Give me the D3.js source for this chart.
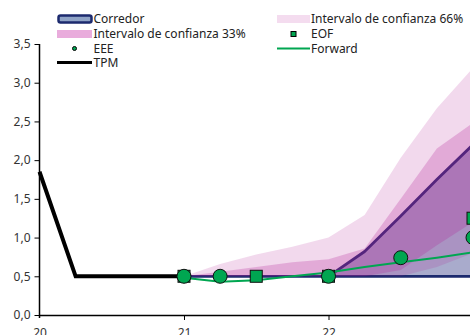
<!DOCTYPE html>
<html><head><meta charset="utf-8">
<script src="https://cdn.jsdelivr.net/npm/d3@7"></script>
<style>body{margin:0;background:#fff}svg{display:block}</style>
</head><body>
<svg id="c" width="470" height="335"></svg>
<script>
// ---- data ----
const tpmX = [20.0, 20.25, 20.5, 20.75, 21.0];
const tpmY = [1.85, 0.5, 0.5, 0.5, 0.5];
const qX = [21.0, 21.25, 21.5, 21.75, 22.0, 22.25, 22.5, 22.75, 23.0];
const corrLow = [0.5, 0.5, 0.5, 0.5, 0.5, 0.5, 0.5, 0.5, 0.5];
const corrHigh = [0.5, 0.5, 0.5, 0.5, 0.5, 0.82, 1.28, 1.75, 2.2];
const ic66Low = [0.5, 0.5, 0.5, 0.5, 0.5, 0.5, 0.5, 0.62, 0.8];
const ic66High = [0.5, 0.66, 0.78, 0.88, 1.0, 1.29, 2.03, 2.67, 3.19];
const ic33Low = [0.5, 0.5, 0.5, 0.5, 0.5, 0.5, 0.58, 0.9, 1.2];
const ic33High = [0.5, 0.56, 0.62, 0.68, 0.72, 0.86, 1.5, 2.15, 2.48];
const fwdY = [0.48, 0.43, 0.45, 0.5, 0.55, 0.62, 0.68, 0.74, 0.81];
const eeeX = [21.0, 21.25, 22.0, 22.5, 23.0];
const eeeY = [0.5, 0.5, 0.5, 0.74, 1.0];
const eofX = [21.0, 21.5, 22.0, 23.0];
const eofY = [0.5, 0.5, 0.5, 1.25];
const yTicks = [0, 0.5, 1.0, 1.5, 2.0, 2.5, 3.0, 3.5];
const xTicks = [20, 21, 22];
const legendLeft = ["Corredor", "Intervalo de confianza 33%", "EEE", "TPM"];
const legendRight = ["Intervalo de confianza 66%", "EOF", "Forward"];

// ---- scales ----
const svg = d3.select("#c");
const x = d3.scaleLinear().domain([20, 23]).range([39.5, 473]);
const y = d3.scaleLinear().domain([0, 3.5]).range([315, 44]);
const FONT = "'Noto Sans', 'Open Sans', sans-serif";
const green = "#00a651";
const navy = "#1c2a6e";
const pinkBase = "rgb(180,30,150)";

const band = (lo, hi) => d3.area().x((d, i) => x(qX[i])).y0((d, i) => y(lo[i])).y1((d, i) => y(hi[i]));
const g = svg.append("g");
// corredor
g.append("path").datum(qX).attr("d", band(corrLow, corrHigh))
  .attr("fill", "#a9abcc").attr("stroke", navy).attr("stroke-width", 2.8).attr("stroke-linejoin", "round");
// confidence bands (translucent over corredor)
g.append("path").datum(qX).attr("d", band(ic66Low, ic66High))
  .attr("fill", pinkBase).attr("fill-opacity", 0.17);
g.append("path").datum(qX).attr("d", band(ic33Low, ic33High))
  .attr("fill", pinkBase).attr("fill-opacity", 0.25);

// TPM
g.append("path").datum(tpmX).attr("d", d3.line().x(d => x(d)).y((d, i) => y(tpmY[i])))
  .attr("fill", "none").attr("stroke", "#000").attr("stroke-width", 4).attr("stroke-linejoin", "miter");
// Forward
g.append("path").datum(qX).attr("d", d3.line().x(d => x(d)).y((d, i) => y(fwdY[i])))
  .attr("fill", "none").attr("stroke", green).attr("stroke-width", 2);
// EOF squares
const sq = 12;
g.selectAll("rect.eof").data(eofX).join("rect").attr("class", "eof")
  .attr("x", d => x(d) - sq / 2).attr("y", (d, i) => y(eofY[i]) - sq / 2)
  .attr("width", sq).attr("height", sq).attr("fill", green).attr("stroke", "#111").attr("stroke-width", 1);
// EEE circles
g.selectAll("circle.eee").data(eeeX).join("circle").attr("class", "eee")
  .attr("cx", d => x(d)).attr("cy", (d, i) => y(eeeY[i])).attr("r", 7)
  .attr("fill", green).attr("stroke", "#111").attr("stroke-width", 1);

// ---- axes ----
const fmt = d => d3.format(".1f")(d).replace(".", ",");
const ya = svg.append("g").attr("transform", "translate(39.5,0)")
  .call(d3.axisLeft(y).tickValues(yTicks).tickFormat(fmt).tickSize(5).tickSizeOuter(0).tickPadding(4));
ya.select(".domain").attr("stroke", "#000").attr("stroke-width", 1.5).attr("d", "M0," + (y(0) + 3) + "V" + y(3.5));
ya.selectAll("text").attr("font-family", FONT).attr("font-size", 12).attr("fill", "#333");
ya.selectAll("line").attr("stroke", "#000");

const xa = svg.append("g").attr("transform", "translate(0,315)")
  .call(d3.axisBottom(x).tickValues(xTicks).tickFormat(d => d).tickSize(5).tickSizeOuter(0).tickPadding(8));
xa.select(".domain").attr("stroke", "#000").attr("stroke-width", 1.5);
xa.selectAll("text").attr("font-family", FONT).attr("font-size", 12).attr("fill", "#333");
xa.selectAll("line").attr("stroke", "#000");
xa.selectAll(".tick").filter(d => d === 20).select("line").remove();

// ---- legend ----
const lg = svg.append("g").attr("font-family", FONT).attr("font-size", 12).attr("fill", "#222");
const rowY = [19, 34, 48.5, 62.5];
legendLeft.forEach((t, i) => lg.append("text").attr("x", 93.5).attr("y", rowY[i]).attr("dy", "0.35em").text(t));
legendRight.forEach((t, i) => lg.append("text").attr("x", 311).attr("y", rowY[i]).attr("dy", "0.35em").text(t));
// swatches
lg.append("rect").attr("x", 58.5).attr("y", 15.5).attr("width", 33).attr("height", 7).attr("rx", 2)
  .attr("fill", "#8fa3c6").attr("stroke", navy).attr("stroke-width", 2.5);
lg.append("rect").attr("x", 57).attr("y", 30).attr("width", 35).attr("height", 8).attr("fill", "#e9acdc");
lg.append("circle").attr("cx", 74.5).attr("cy", rowY[2]).attr("r", 2).attr("fill", green).attr("stroke", "#000").attr("stroke-width", 1);
lg.append("line").attr("x1", 57).attr("x2", 92).attr("y1", rowY[3]).attr("y2", rowY[3]).attr("stroke", "#000").attr("stroke-width", 3);
lg.append("rect").attr("x", 277).attr("y", 15).attr("width", 33).attr("height", 8).attr("fill", "#f4dcef");
lg.append("rect").attr("x", 291).attr("y", 31.5).attr("width", 5).attr("height", 5).attr("fill", green).attr("stroke", "#000").attr("stroke-width", 1);
lg.append("line").attr("x1", 277).attr("x2", 310).attr("y1", rowY[2]).attr("y2", rowY[2]).attr("stroke", green).attr("stroke-width", 2);
</script>
</body></html>
